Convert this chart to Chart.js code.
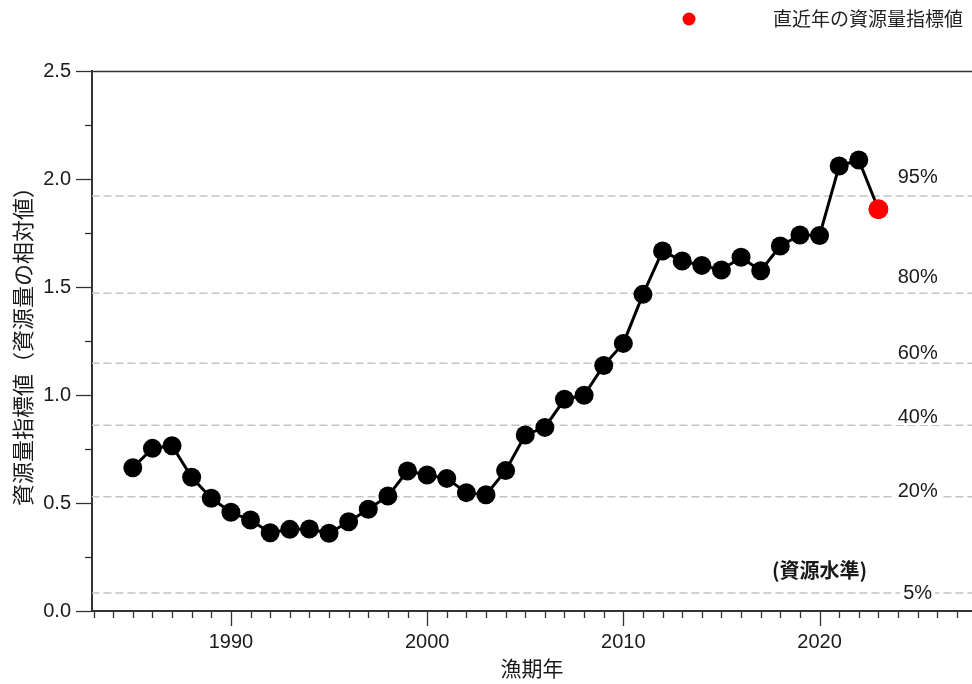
<!DOCTYPE html>
<html>
<head>
<meta charset="utf-8">
<script src="https://cdn.jsdelivr.net/npm/chart.js@4/dist/chart.umd.min.js"></script>
<style>
html,body{margin:0;padding:0;background:#fff;}
#wrap{width:972px;height:684px;position:relative;}
</style>
</head>
<body>
<div id="wrap"><canvas id="c" width="972" height="684"></canvas></div>
<script>
// ---- data ----
const years = [1985,1986,1987,1988,1989,1990,1991,1992,1993,1994,1995,1996,1997,1998,1999,2000,2001,2002,2003,2004,2005,2006,2007,2008,2009,2010,2011,2012,2013,2014,2015,2016,2017,2018,2019,2020,2021,2022,2023];
const resourceIndex = [0.663,0.753,0.765,0.619,0.522,0.457,0.421,0.362,0.378,0.380,0.360,0.413,0.471,0.532,0.648,0.630,0.614,0.548,0.538,0.650,0.815,0.850,0.980,0.999,1.137,1.239,1.466,1.667,1.620,1.600,1.579,1.638,1.575,1.690,1.741,1.738,2.060,2.088,1.860];
const latestYear = [2023];
const latestValue = [1.860];
const levelNames = ['95%','80%','60%','40%','20%','5%'];
const levelValues = [1.921,1.471,1.147,0.860,0.529,0.083];
const levelLabelValues = [2.009,1.542,1.190,0.898,0.551,0.083];
const xTickLabels = [1990,2000,2010,2020];
const yTickLabels = [0,0.5,1.0,1.5,2.0,2.5];
const legendText = '直近年の資源量指標値';
const levelTitle = '(資源水準)';
const xTitle = '漁期年';
const yTitle = '資源量指標値（資源量の相対値）';

const X_MIN = 1982.92, X_MAX = 2027.77;
const LATIN = '"Liberation Sans", Arial, "Noto Sans CJK JP", sans-serif';
const CJK = '"Noto Sans CJK JP", "Liberation Sans", sans-serif';
const TXT = '#1a1a1a';

const levelDatasets = levelValues.map((v, i) => ({
  label: levelNames[i],
  data: [{x: X_MIN, y: v}, {x: X_MAX, y: v}],
  borderColor: '#c4c4c4',
  borderWidth: 1.5,
  borderDash: [7, 5],
  pointRadius: 0,
  fill: false,
  order: 3
}));

const decor = {
  id: 'decor',
  afterDraw(chart) {
    const ctx = chart.ctx;
    const a = chart.chartArea;
    const xs = chart.scales.x, ys = chart.scales.y;
    ctx.save();
    // top frame
    ctx.strokeStyle = '#333';
    ctx.lineWidth = 1.5;
    ctx.beginPath();
    ctx.moveTo(a.left, a.top + 0.5);
    ctx.lineTo(a.right, a.top + 0.5);
    ctx.stroke();
    // y tick marks
    ctx.lineWidth = 1.3;
    for (let i = 0; i <= 10; i++) {
      const y = Math.round(ys.getPixelForValue(i * 0.25)) + 0.5;
      const len = i % 2 === 0 ? 16 : 7;
      ctx.beginPath();
      ctx.moveTo(a.left - len, y);
      ctx.lineTo(a.left, y);
      ctx.stroke();
    }
    // x tick marks
    for (let yr = 1983; yr <= 2027; yr++) {
      const x = Math.round(xs.getPixelForValue(yr)) + 0.5;
      const len = yr % 10 === 0 ? 15 : 7;
      ctx.beginPath();
      ctx.moveTo(x, a.bottom);
      ctx.lineTo(x, a.bottom + len);
      ctx.stroke();
    }
    // percentile labels
    ctx.font = '20px ' + LATIN;
    ctx.textAlign = 'center';
    ctx.textBaseline = 'middle';
    const lx = xs.getPixelForValue(2025);
    levelNames.forEach((t, i) => {
      const y = ys.getPixelForValue(levelLabelValues[i]);
      const w = ctx.measureText(t).width;
      ctx.fillStyle = '#fff';
      ctx.fillRect(lx - w / 2 - 3, y - 8, w + 6, 16);
      ctx.fillStyle = TXT;
      ctx.fillText(t, lx, y);
    });
    // level title
    ctx.font = 'bold 20px ' + CJK;
    ctx.fillStyle = TXT;
    ctx.fillText(levelTitle, xs.getPixelForValue(2020), ys.getPixelForValue(0.19));
    // legend
    ctx.beginPath();
    ctx.fillStyle = '#ff0000';
    ctx.arc(689, 19, 6.5, 0, Math.PI * 2);
    ctx.fill();
    ctx.font = '19px ' + CJK;
    ctx.fillStyle = '#222';
    ctx.textAlign = 'left';
    ctx.fillText(legendText, 773, 19);
    ctx.restore();
  }
};

new Chart(document.getElementById('c'), {
  type: 'line',
  data: {
    datasets: [
      {
        label: legendText,
        data: latestYear.map((x, i) => ({x, y: latestValue[i]})),
        showLine: false,
        pointRadius: 10,
        pointBackgroundColor: '#ff0000',
        pointBorderWidth: 0,
        order: 0
      },
      {
        label: 'index',
        data: years.map((x, i) => ({x, y: resourceIndex[i]})),
        borderColor: '#000',
        borderWidth: 3,
        pointRadius: 9.5,
        pointBackgroundColor: '#000',
        pointBorderWidth: 0,
        tension: 0,
        fill: false,
        order: 1
      },
      ...levelDatasets
    ]
  },
  options: {
    responsive: false,
    animation: false,
    devicePixelRatio: 1,
    layout: {autoPadding: false, padding: {top: 71, right: 0, bottom: 0, left: 0}},
    plugins: {legend: {display: false}, tooltip: {enabled: false}, title: {display: false}},
    elements: {line: {borderCapStyle: 'round', borderJoinStyle: 'round'}},
    scales: {
      x: {
        type: 'linear',
        min: X_MIN,
        max: X_MAX,
        afterBuildTicks: s => { s.ticks = xTickLabels.map(v => ({value: v})); },
        afterFit: s => { s.height = 73; },
        grid: {display: true, drawOnChartArea: false, drawTicks: false},
        border: {display: true, color: '#333', width: 2},
        ticks: {
          color: TXT,
          font: {family: LATIN, size: 20},
          padding: 19,
          maxRotation: 0,
          callback: v => String(v)
        },
        title: {
          display: true,
          text: xTitle,
          color: TXT,
          font: {family: CJK, size: 21},
          padding: {top: 0, bottom: 3}
        }
      },
      y: {
        type: 'linear',
        min: 0,
        max: 2.5,
        afterBuildTicks: s => { s.ticks = yTickLabels.map(v => ({value: v})); },
        afterFit: s => { s.width = 92; },
        grid: {display: true, drawOnChartArea: false, drawTicks: false},
        border: {display: true, color: '#333', width: 2},
        ticks: {
          color: TXT,
          font: {family: LATIN, size: 20},
          padding: 21,
          callback: v => Number(v).toFixed(1)
        },
        title: {
          display: true,
          text: yTitle,
          color: TXT,
          font: {family: CJK, size: 22},
          padding: {top: 9, bottom: 0}
        }
      }
    }
  },
  plugins: [decor]
});
</script>
</body>
</html>
